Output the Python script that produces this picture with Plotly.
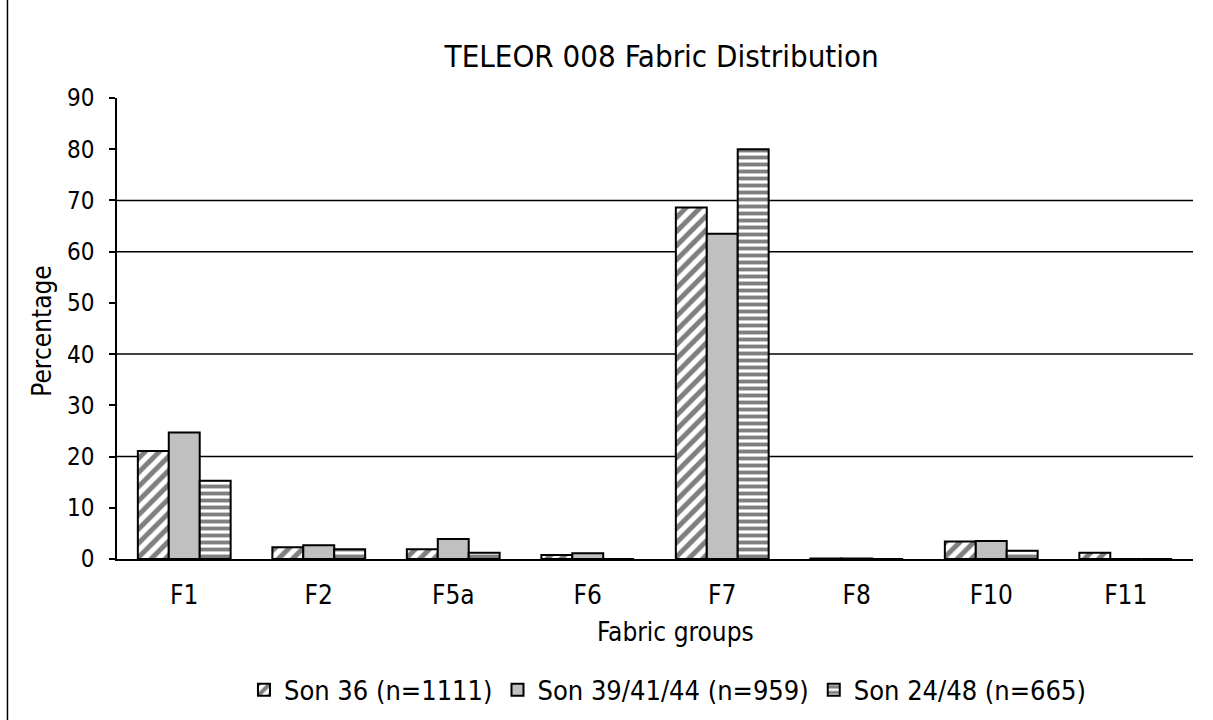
import plotly.graph_objects as go

categories = ["F1", "F2", "F5a", "F6", "F7", "F8", "F10", "F11"]
son36 = [21.1, 2.3, 1.9, 0.8, 68.6, 0.1, 3.4, 1.2]
son39 = [24.7, 2.7, 3.9, 1.1, 63.5, 0.1, 3.5, 0.0]
son24 = [15.3, 1.9, 1.2, 0.0, 80.0, 0.0, 1.6, 0.0]
series_names = ["Son 36 (n=1111)", "Son 39/41/44 (n=959)", "Son 24/48 (n=665)"]
y_ticks = [0, 10, 20, 30, 40, 50, 60, 70, 80, 90]
grid_values = [20, 40, 60, 70]

FONT = "DejaVu Sans Condensed"

fig = go.Figure()
fig.add_trace(go.Bar(
    x=categories, y=son36, name=series_names[0],
    marker=dict(color="white", line=dict(color="black", width=2),
                pattern=dict(shape="/", fgcolor="black", bgcolor="white", size=10, solidity=0.5)),
))
fig.add_trace(go.Bar(
    x=categories, y=son39, name=series_names[1],
    marker=dict(color="#c0c0c0", line=dict(color="black", width=2)),
))
fig.add_trace(go.Bar(
    x=categories, y=son24, name=series_names[2],
    marker=dict(color="white", line=dict(color="black", width=2),
                pattern=dict(shape="-", fgcolor="black", bgcolor="white", size=7, solidity=0.55)),
))

shapes = []
for g in grid_values:
    shapes.append(dict(type="line", xref="paper", yref="y", x0=0, x1=1, y0=g, y1=g,
                       line=dict(color="black", width=1.5), layer="below"))
# left frame border of the original figure
shapes.append(dict(type="line", xref="paper", yref="paper", x0=-0.1018, x1=-0.1018, y0=-0.36, y1=1.22,
                   line=dict(color="black", width=1.5)))

fig.update_layout(
    width=1213, height=720,
    margin=dict(l=117, r=20, t=98, b=161, autoexpand=False),
    paper_bgcolor="white", plot_bgcolor="white",
    font=dict(family=FONT, color="black", size=26),
    barmode="group", bargap=0.31, bargroupgap=0,
    title=dict(text="TELEOR 008 Fabric Distribution", x=0.5455, xanchor="center",
               y=0.922, yanchor="middle", font=dict(size=31, family=FONT, color="black")),
    showlegend=True,
    legend=dict(orientation="h", x=0.118, xanchor="left", y=-0.2845, yanchor="middle",
                font=dict(size=27, family=FONT), traceorder="normal", itemwidth=30),
    shapes=shapes,
    annotations=[
        dict(text="Percentage", xref="paper", yref="paper", x=-0.0697, y=0.493,
             xanchor="center", yanchor="middle", textangle=-90, showarrow=False,
             font=dict(size=26, family=FONT)),
        dict(text="Fabric groups", xref="paper", yref="paper", x=0.5186, y=-0.1585,
             xanchor="center", yanchor="middle", showarrow=False,
             font=dict(size=26, family=FONT)),
    ],
)
fig.update_xaxes(showline=True, linecolor="black", linewidth=1.5, showgrid=False,
                 ticks="", tickfont=dict(size=26, family=FONT), ticklabelstandoff=12,
                 zeroline=False)
fig.update_yaxes(range=[0, 90], tickvals=y_ticks, showline=True, linecolor="black", linewidth=1.5,
                 showgrid=False, zeroline=False, ticks="outside", ticklen=6, tickcolor="black",
                 tickwidth=1.5, tickfont=dict(size=24, family=FONT), ticklabelstandoff=10)

fig.write_html("out.html", config={"displayModeBar": False},
               post_script="document.body.style.margin='0';")
